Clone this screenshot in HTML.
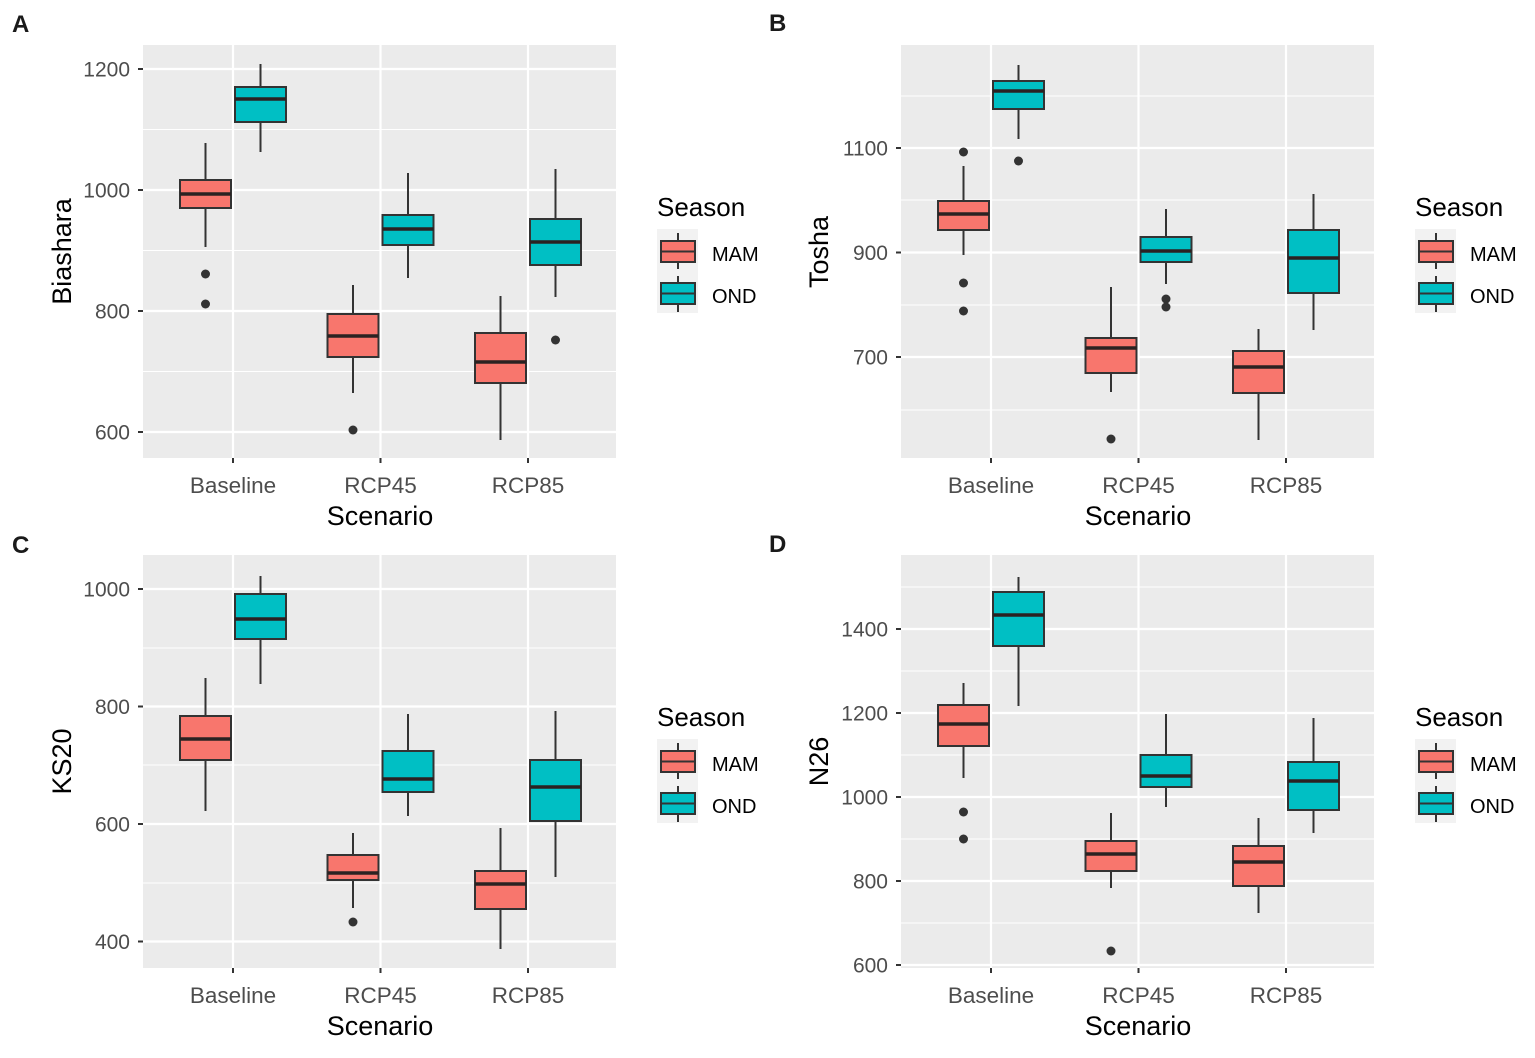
<!DOCTYPE html>
<html>
<head>
<meta charset="utf-8">
<style>
  html, body { margin: 0; padding: 0; background: #ffffff; }
  svg { display: block; font-family: "Liberation Sans", Arial, sans-serif; }
  .bg { fill: #EBEBEB; }
  .gmaj { stroke: #ffffff; stroke-width: 2.2; }
  .gmin { stroke: #ffffff; stroke-width: 1.1; }
  .tick { stroke: #333333; stroke-width: 2; }
  .wh { stroke: #333333; stroke-width: 2; }
  .mam { fill: #F8766D; stroke: #333333; stroke-width: 2; }
  .ond { fill: #00BFC4; stroke: #333333; stroke-width: 2; }
  .med { stroke: #2b2222; stroke-width: 3.5; }
  .out { fill: #333333; }
  .ytl { font-size: 21px; fill: #4D4D4D; text-anchor: end; }
  .xtl { font-size: 22.5px; fill: #4D4D4D; text-anchor: middle; }
  .ttl { font-size: 27px; fill: #000000; text-anchor: middle; }
  .leg { font-size: 26px; fill: #000000; }
  .legl { font-size: 20px; fill: #000000; }
  .keybg { fill: #F2F2F2; }
  .lab { font-size: 24px; font-weight: bold; fill: #1a1a1a; }
</style>
</head>
<body>
<svg width="1535" height="1058" viewBox="0 0 1535 1058" xmlns="http://www.w3.org/2000/svg">
  <rect x="0" y="0" width="1535" height="1058" fill="#ffffff"/>

  <!-- Panel letters -->
  <text class="lab" x="12" y="32">A</text>
  <text class="lab" x="769" y="31">B</text>
  <text class="lab" x="12" y="553">C</text>
  <text class="lab" x="769" y="552">D</text>

  <!-- ================= PANEL A ================= -->
  <g transform="translate(0,0)">
    <rect class="bg" x="143" y="45" width="473" height="413"/>
    <line class="gmin" x1="143" x2="616" y1="129.5" y2="129.5"/>
    <line class="gmin" x1="143" x2="616" y1="250.5" y2="250.5"/>
    <line class="gmin" x1="143" x2="616" y1="371.5" y2="371.5"/>
    <line class="gmaj" x1="143" x2="616" y1="69" y2="69"/>
    <line class="gmaj" x1="143" x2="616" y1="190" y2="190"/>
    <line class="gmaj" x1="143" x2="616" y1="311" y2="311"/>
    <line class="gmaj" x1="143" x2="616" y1="432" y2="432"/>
    <line class="gmaj" x1="233" x2="233" y1="45" y2="458"/>
    <line class="gmaj" x1="380.5" x2="380.5" y1="45" y2="458"/>
    <line class="gmaj" x1="528" x2="528" y1="45" y2="458"/>

    <line class="tick" x1="138" x2="143" y1="69" y2="69"/>
    <line class="tick" x1="138" x2="143" y1="190" y2="190"/>
    <line class="tick" x1="138" x2="143" y1="311" y2="311"/>
    <line class="tick" x1="138" x2="143" y1="432" y2="432"/>
    <line class="tick" x1="233" x2="233" y1="458" y2="463"/>
    <line class="tick" x1="380.5" x2="380.5" y1="458" y2="463"/>
    <line class="tick" x1="528" x2="528" y1="458" y2="463"/>

    <text class="ytl" x="130" y="76.5">1200</text>
    <text class="ytl" x="130" y="197.5">1000</text>
    <text class="ytl" x="130" y="318.5">800</text>
    <text class="ytl" x="130" y="439.5">600</text>
    <text class="xtl" x="233" y="493">Baseline</text>
    <text class="xtl" x="380.5" y="493">RCP45</text>
    <text class="xtl" x="528" y="493">RCP85</text>
    <text class="ttl" x="380" y="525">Scenario</text>
    <text class="ttl" transform="translate(71,251.5) rotate(-90)">Biashara</text>

    <!-- Baseline MAM -->
    <line class="wh" x1="205.5" x2="205.5" y1="143" y2="180"/>
    <line class="wh" x1="205.5" x2="205.5" y1="208" y2="247"/>
    <rect class="mam" x="180" y="180" width="51" height="28"/>
    <line class="med" x1="180" x2="231" y1="194" y2="194"/>
    <circle class="out" cx="205.5" cy="274" r="4.5"/>
    <circle class="out" cx="205.5" cy="304" r="4.5"/>
    <!-- Baseline OND -->
    <line class="wh" x1="260.5" x2="260.5" y1="64" y2="87"/>
    <line class="wh" x1="260.5" x2="260.5" y1="122" y2="152"/>
    <rect class="ond" x="235" y="87" width="51" height="35"/>
    <line class="med" x1="235" x2="286" y1="99" y2="99"/>
    <!-- RCP45 MAM -->
    <line class="wh" x1="353" x2="353" y1="285" y2="314"/>
    <line class="wh" x1="353" x2="353" y1="357" y2="393"/>
    <rect class="mam" x="327.5" y="314" width="51" height="43"/>
    <line class="med" x1="327.5" x2="378.5" y1="336" y2="336"/>
    <circle class="out" cx="353" cy="430" r="4.5"/>
    <!-- RCP45 OND -->
    <line class="wh" x1="408" x2="408" y1="173" y2="215"/>
    <line class="wh" x1="408" x2="408" y1="245" y2="278"/>
    <rect class="ond" x="382.5" y="215" width="51" height="30"/>
    <line class="med" x1="382.5" x2="433.5" y1="229" y2="229"/>
    <!-- RCP85 MAM -->
    <line class="wh" x1="500.5" x2="500.5" y1="296" y2="333"/>
    <line class="wh" x1="500.5" x2="500.5" y1="383" y2="440"/>
    <rect class="mam" x="475" y="333" width="51" height="50"/>
    <line class="med" x1="475" x2="526" y1="362" y2="362"/>
    <!-- RCP85 OND -->
    <line class="wh" x1="555.5" x2="555.5" y1="169" y2="219"/>
    <line class="wh" x1="555.5" x2="555.5" y1="265" y2="297"/>
    <rect class="ond" x="530" y="219" width="51" height="46"/>
    <line class="med" x1="530" x2="581" y1="242" y2="242"/>
    <circle class="out" cx="555.5" cy="340" r="4.5"/>

    <!-- Legend -->
    <text class="leg" x="657" y="216">Season</text>
    <rect class="keybg" x="657" y="229" width="41" height="84"/>
    <line class="wh" x1="678" x2="678" y1="233" y2="269"/>
    <rect class="mam" x="661" y="241" width="34" height="21"/>
    <line class="wh" x1="661" x2="695" y1="251.5" y2="251.5"/>
    <line class="wh" x1="678" x2="678" y1="276" y2="312"/>
    <rect class="ond" x="661" y="283" width="34" height="21"/>
    <line class="wh" x1="661" x2="695" y1="293.5" y2="293.5"/>
    <text class="legl" x="712" y="261">MAM</text>
    <text class="legl" x="712" y="303">OND</text>
  </g>

  <!-- ================= PANEL B ================= -->
  <g transform="translate(758,0)">
    <rect class="bg" x="143" y="45" width="473" height="413"/>
    <line class="gmin" x1="143" x2="616" y1="96" y2="96"/>
    <line class="gmin" x1="143" x2="616" y1="200" y2="200"/>
    <line class="gmin" x1="143" x2="616" y1="305" y2="305"/>
    <line class="gmin" x1="143" x2="616" y1="410" y2="410"/>
    <line class="gmaj" x1="143" x2="616" y1="148" y2="148"/>
    <line class="gmaj" x1="143" x2="616" y1="252.5" y2="252.5"/>
    <line class="gmaj" x1="143" x2="616" y1="357" y2="357"/>
    <line class="gmaj" x1="233" x2="233" y1="45" y2="458"/>
    <line class="gmaj" x1="380.5" x2="380.5" y1="45" y2="458"/>
    <line class="gmaj" x1="528" x2="528" y1="45" y2="458"/>

    <line class="tick" x1="138" x2="143" y1="148" y2="148"/>
    <line class="tick" x1="138" x2="143" y1="252.5" y2="252.5"/>
    <line class="tick" x1="138" x2="143" y1="357" y2="357"/>
    <line class="tick" x1="233" x2="233" y1="458" y2="463"/>
    <line class="tick" x1="380.5" x2="380.5" y1="458" y2="463"/>
    <line class="tick" x1="528" x2="528" y1="458" y2="463"/>

    <text class="ytl" x="130" y="155.5">1100</text>
    <text class="ytl" x="130" y="260">900</text>
    <text class="ytl" x="130" y="364.5">700</text>
    <text class="xtl" x="233" y="493">Baseline</text>
    <text class="xtl" x="380.5" y="493">RCP45</text>
    <text class="xtl" x="528" y="493">RCP85</text>
    <text class="ttl" x="380" y="525">Scenario</text>
    <text class="ttl" transform="translate(70,252) rotate(-90)">Tosha</text>

    <!-- Baseline MAM -->
    <line class="wh" x1="205.5" x2="205.5" y1="166" y2="201"/>
    <line class="wh" x1="205.5" x2="205.5" y1="230" y2="255"/>
    <rect class="mam" x="180" y="201" width="51" height="29"/>
    <line class="med" x1="180" x2="231" y1="214" y2="214"/>
    <circle class="out" cx="205.5" cy="152" r="4.5"/>
    <circle class="out" cx="205.5" cy="283" r="4.5"/>
    <circle class="out" cx="205.5" cy="311" r="4.5"/>
    <!-- Baseline OND -->
    <line class="wh" x1="260.5" x2="260.5" y1="65" y2="81"/>
    <line class="wh" x1="260.5" x2="260.5" y1="109" y2="139"/>
    <rect class="ond" x="235" y="81" width="51" height="28"/>
    <line class="med" x1="235" x2="286" y1="91" y2="91"/>
    <circle class="out" cx="260.5" cy="161" r="4.5"/>
    <!-- RCP45 MAM -->
    <line class="wh" x1="353" x2="353" y1="287" y2="338"/>
    <line class="wh" x1="353" x2="353" y1="373" y2="392"/>
    <rect class="mam" x="327.5" y="338" width="51" height="35"/>
    <line class="med" x1="327.5" x2="378.5" y1="348" y2="348"/>
    <circle class="out" cx="353" cy="439" r="4.5"/>
    <!-- RCP45 OND -->
    <line class="wh" x1="408" x2="408" y1="209" y2="237"/>
    <line class="wh" x1="408" x2="408" y1="262" y2="284"/>
    <rect class="ond" x="382.5" y="237" width="51" height="25"/>
    <line class="med" x1="382.5" x2="433.5" y1="251" y2="251"/>
    <circle class="out" cx="408" cy="299" r="4.5"/>
    <circle class="out" cx="408" cy="307" r="4.5"/>
    <!-- RCP85 MAM -->
    <line class="wh" x1="500.5" x2="500.5" y1="329" y2="351"/>
    <line class="wh" x1="500.5" x2="500.5" y1="393" y2="440"/>
    <rect class="mam" x="475" y="351" width="51" height="42"/>
    <line class="med" x1="475" x2="526" y1="367" y2="367"/>
    <!-- RCP85 OND -->
    <line class="wh" x1="555.5" x2="555.5" y1="194" y2="230"/>
    <line class="wh" x1="555.5" x2="555.5" y1="293" y2="330"/>
    <rect class="ond" x="530" y="230" width="51" height="63"/>
    <line class="med" x1="530" x2="581" y1="258" y2="258"/>

    <!-- Legend -->
    <text class="leg" x="657" y="216">Season</text>
    <rect class="keybg" x="657" y="229" width="41" height="84"/>
    <line class="wh" x1="678" x2="678" y1="233" y2="269"/>
    <rect class="mam" x="661" y="241" width="34" height="21"/>
    <line class="wh" x1="661" x2="695" y1="251.5" y2="251.5"/>
    <line class="wh" x1="678" x2="678" y1="276" y2="312"/>
    <rect class="ond" x="661" y="283" width="34" height="21"/>
    <line class="wh" x1="661" x2="695" y1="293.5" y2="293.5"/>
    <text class="legl" x="712" y="261">MAM</text>
    <text class="legl" x="712" y="303">OND</text>
  </g>

  <!-- ================= PANEL C ================= -->
  <g transform="translate(0,510)">
    <rect class="bg" x="143" y="45" width="473" height="413"/>
    <line class="gmin" x1="143" x2="616" y1="138" y2="138"/>
    <line class="gmin" x1="143" x2="616" y1="255" y2="255"/>
    <line class="gmin" x1="143" x2="616" y1="373" y2="373"/>
    <line class="gmaj" x1="143" x2="616" y1="79" y2="79"/>
    <line class="gmaj" x1="143" x2="616" y1="196.5" y2="196.5"/>
    <line class="gmaj" x1="143" x2="616" y1="314" y2="314"/>
    <line class="gmaj" x1="143" x2="616" y1="431.5" y2="431.5"/>
    <line class="gmaj" x1="233" x2="233" y1="45" y2="458"/>
    <line class="gmaj" x1="380.5" x2="380.5" y1="45" y2="458"/>
    <line class="gmaj" x1="528" x2="528" y1="45" y2="458"/>

    <line class="tick" x1="138" x2="143" y1="79" y2="79"/>
    <line class="tick" x1="138" x2="143" y1="196.5" y2="196.5"/>
    <line class="tick" x1="138" x2="143" y1="314" y2="314"/>
    <line class="tick" x1="138" x2="143" y1="431.5" y2="431.5"/>
    <line class="tick" x1="233" x2="233" y1="458" y2="463"/>
    <line class="tick" x1="380.5" x2="380.5" y1="458" y2="463"/>
    <line class="tick" x1="528" x2="528" y1="458" y2="463"/>

    <text class="ytl" x="130" y="86.5">1000</text>
    <text class="ytl" x="130" y="204">800</text>
    <text class="ytl" x="130" y="321.5">600</text>
    <text class="ytl" x="130" y="439">400</text>
    <text class="xtl" x="233" y="493">Baseline</text>
    <text class="xtl" x="380.5" y="493">RCP45</text>
    <text class="xtl" x="528" y="493">RCP85</text>
    <text class="ttl" x="380" y="525">Scenario</text>
    <text class="ttl" transform="translate(71,251.5) rotate(-90)">KS20</text>

    <!-- Baseline MAM -->
    <line class="wh" x1="205.5" x2="205.5" y1="168" y2="206"/>
    <line class="wh" x1="205.5" x2="205.5" y1="250" y2="301"/>
    <rect class="mam" x="180" y="206" width="51" height="44"/>
    <line class="med" x1="180" x2="231" y1="229" y2="229"/>
    <!-- Baseline OND -->
    <line class="wh" x1="260.5" x2="260.5" y1="66" y2="84"/>
    <line class="wh" x1="260.5" x2="260.5" y1="129" y2="174"/>
    <rect class="ond" x="235" y="84" width="51" height="45"/>
    <line class="med" x1="235" x2="286" y1="109" y2="109"/>
    <!-- RCP45 MAM -->
    <line class="wh" x1="353" x2="353" y1="323" y2="345"/>
    <line class="wh" x1="353" x2="353" y1="370" y2="398"/>
    <rect class="mam" x="327.5" y="345" width="51" height="25"/>
    <line class="med" x1="327.5" x2="378.5" y1="363" y2="363"/>
    <circle class="out" cx="353" cy="412" r="4.5"/>
    <!-- RCP45 OND -->
    <line class="wh" x1="408" x2="408" y1="204" y2="241"/>
    <line class="wh" x1="408" x2="408" y1="282" y2="306"/>
    <rect class="ond" x="382.5" y="241" width="51" height="41"/>
    <line class="med" x1="382.5" x2="433.5" y1="269" y2="269"/>
    <!-- RCP85 MAM -->
    <line class="wh" x1="500.5" x2="500.5" y1="318" y2="361"/>
    <line class="wh" x1="500.5" x2="500.5" y1="399" y2="439"/>
    <rect class="mam" x="475" y="361" width="51" height="38"/>
    <line class="med" x1="475" x2="526" y1="374" y2="374"/>
    <!-- RCP85 OND -->
    <line class="wh" x1="555.5" x2="555.5" y1="201" y2="250"/>
    <line class="wh" x1="555.5" x2="555.5" y1="311" y2="367"/>
    <rect class="ond" x="530" y="250" width="51" height="61"/>
    <line class="med" x1="530" x2="581" y1="277" y2="277"/>

    <!-- Legend -->
    <text class="leg" x="657" y="216">Season</text>
    <rect class="keybg" x="657" y="229" width="41" height="84"/>
    <line class="wh" x1="678" x2="678" y1="233" y2="269"/>
    <rect class="mam" x="661" y="241" width="34" height="21"/>
    <line class="wh" x1="661" x2="695" y1="251.5" y2="251.5"/>
    <line class="wh" x1="678" x2="678" y1="276" y2="312"/>
    <rect class="ond" x="661" y="283" width="34" height="21"/>
    <line class="wh" x1="661" x2="695" y1="293.5" y2="293.5"/>
    <text class="legl" x="712" y="261">MAM</text>
    <text class="legl" x="712" y="303">OND</text>
  </g>

  <!-- ================= PANEL D ================= -->
  <g transform="translate(758,510)">
    <rect class="bg" x="143" y="45" width="473" height="413"/>
    <line class="gmin" x1="143" x2="616" y1="77" y2="77"/>
    <line class="gmin" x1="143" x2="616" y1="161" y2="161"/>
    <line class="gmin" x1="143" x2="616" y1="245" y2="245"/>
    <line class="gmin" x1="143" x2="616" y1="329" y2="329"/>
    <line class="gmin" x1="143" x2="616" y1="413" y2="413"/>
    <line class="gmaj" x1="143" x2="616" y1="119" y2="119"/>
    <line class="gmaj" x1="143" x2="616" y1="203" y2="203"/>
    <line class="gmaj" x1="143" x2="616" y1="287" y2="287"/>
    <line class="gmaj" x1="143" x2="616" y1="371" y2="371"/>
    <line class="gmaj" x1="143" x2="616" y1="455" y2="455"/>
    <line class="gmaj" x1="233" x2="233" y1="45" y2="458"/>
    <line class="gmaj" x1="380.5" x2="380.5" y1="45" y2="458"/>
    <line class="gmaj" x1="528" x2="528" y1="45" y2="458"/>

    <line class="tick" x1="138" x2="143" y1="119" y2="119"/>
    <line class="tick" x1="138" x2="143" y1="203" y2="203"/>
    <line class="tick" x1="138" x2="143" y1="287" y2="287"/>
    <line class="tick" x1="138" x2="143" y1="371" y2="371"/>
    <line class="tick" x1="138" x2="143" y1="455" y2="455"/>
    <line class="tick" x1="233" x2="233" y1="458" y2="463"/>
    <line class="tick" x1="380.5" x2="380.5" y1="458" y2="463"/>
    <line class="tick" x1="528" x2="528" y1="458" y2="463"/>

    <text class="ytl" x="130" y="126.5">1400</text>
    <text class="ytl" x="130" y="210.5">1200</text>
    <text class="ytl" x="130" y="294.5">1000</text>
    <text class="ytl" x="130" y="378.5">800</text>
    <text class="ytl" x="130" y="462.5">600</text>
    <text class="xtl" x="233" y="493">Baseline</text>
    <text class="xtl" x="380.5" y="493">RCP45</text>
    <text class="xtl" x="528" y="493">RCP85</text>
    <text class="ttl" x="380" y="525">Scenario</text>
    <text class="ttl" transform="translate(70,251.5) rotate(-90)">N26</text>

    <!-- Baseline MAM -->
    <line class="wh" x1="205.5" x2="205.5" y1="173" y2="195"/>
    <line class="wh" x1="205.5" x2="205.5" y1="236" y2="268"/>
    <rect class="mam" x="180" y="195" width="51" height="41"/>
    <line class="med" x1="180" x2="231" y1="214" y2="214"/>
    <circle class="out" cx="205.5" cy="302" r="4.5"/>
    <circle class="out" cx="205.5" cy="329" r="4.5"/>
    <!-- Baseline OND -->
    <line class="wh" x1="260.5" x2="260.5" y1="67" y2="82"/>
    <line class="wh" x1="260.5" x2="260.5" y1="136" y2="196"/>
    <rect class="ond" x="235" y="82" width="51" height="54"/>
    <line class="med" x1="235" x2="286" y1="105" y2="105"/>
    <!-- RCP45 MAM -->
    <line class="wh" x1="353" x2="353" y1="303" y2="331"/>
    <line class="wh" x1="353" x2="353" y1="361" y2="378"/>
    <rect class="mam" x="327.5" y="331" width="51" height="30"/>
    <line class="med" x1="327.5" x2="378.5" y1="344" y2="344"/>
    <circle class="out" cx="353" cy="441" r="4.5"/>
    <!-- RCP45 OND -->
    <line class="wh" x1="408" x2="408" y1="204" y2="245"/>
    <line class="wh" x1="408" x2="408" y1="277" y2="297"/>
    <rect class="ond" x="382.5" y="245" width="51" height="32"/>
    <line class="med" x1="382.5" x2="433.5" y1="266" y2="266"/>
    <!-- RCP85 MAM -->
    <line class="wh" x1="500.5" x2="500.5" y1="308" y2="336"/>
    <line class="wh" x1="500.5" x2="500.5" y1="376" y2="403"/>
    <rect class="mam" x="475" y="336" width="51" height="40"/>
    <line class="med" x1="475" x2="526" y1="352" y2="352"/>
    <!-- RCP85 OND -->
    <line class="wh" x1="555.5" x2="555.5" y1="208" y2="252"/>
    <line class="wh" x1="555.5" x2="555.5" y1="300" y2="323"/>
    <rect class="ond" x="530" y="252" width="51" height="48"/>
    <line class="med" x1="530" x2="581" y1="271" y2="271"/>

    <!-- Legend -->
    <text class="leg" x="657" y="216">Season</text>
    <rect class="keybg" x="657" y="229" width="41" height="84"/>
    <line class="wh" x1="678" x2="678" y1="233" y2="269"/>
    <rect class="mam" x="661" y="241" width="34" height="21"/>
    <line class="wh" x1="661" x2="695" y1="251.5" y2="251.5"/>
    <line class="wh" x1="678" x2="678" y1="276" y2="312"/>
    <rect class="ond" x="661" y="283" width="34" height="21"/>
    <line class="wh" x1="661" x2="695" y1="293.5" y2="293.5"/>
    <text class="legl" x="712" y="261">MAM</text>
    <text class="legl" x="712" y="303">OND</text>
  </g>
</svg>
</body>
</html>
